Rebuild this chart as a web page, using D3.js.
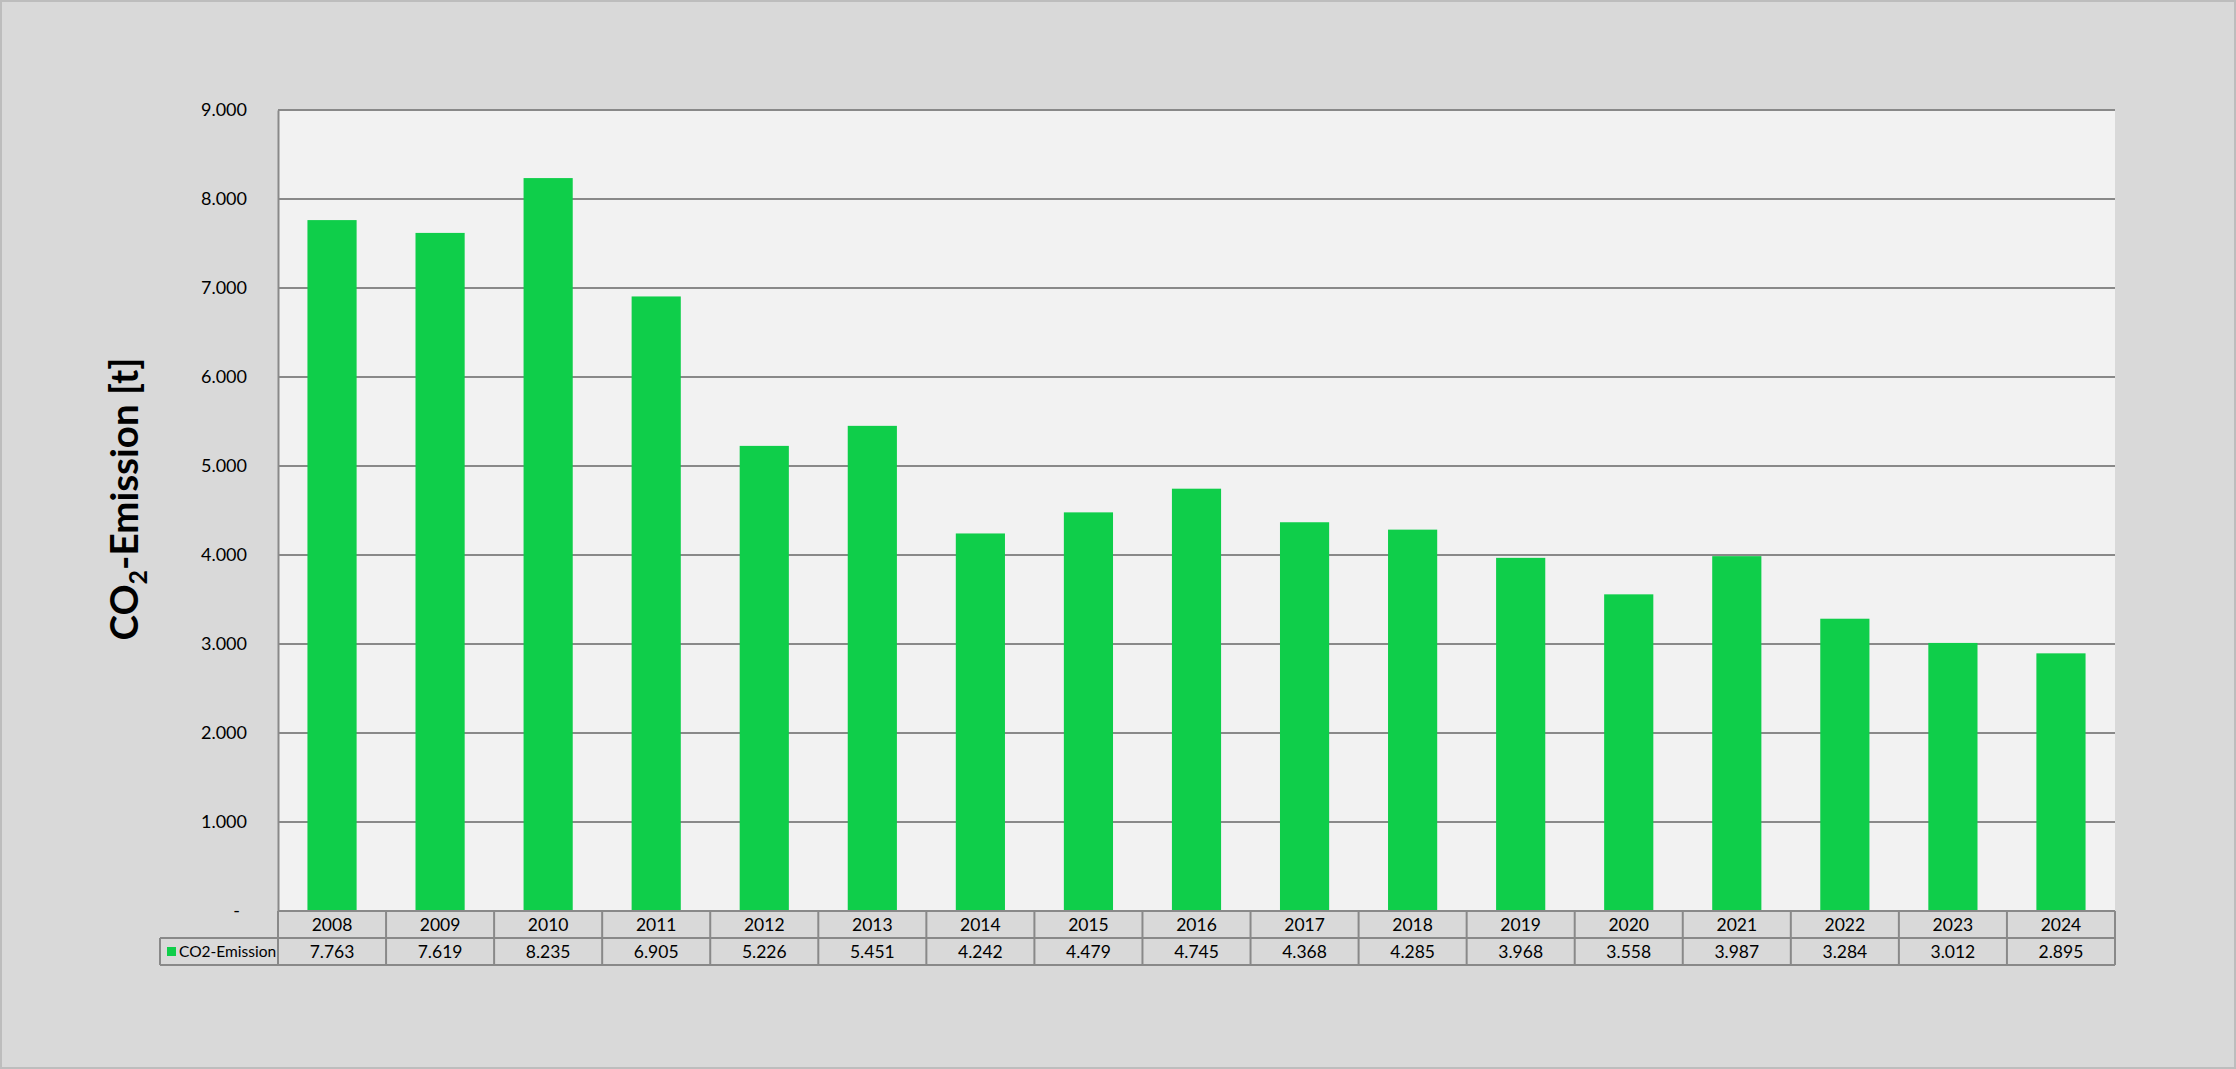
<!DOCTYPE html>
<html>
<head>
<meta charset="utf-8">
<script src="https://cdn.jsdelivr.net/npm/d3@7"></script>
<style>
  html, body { margin: 0; padding: 0; background: #d9d9d9; }
  svg { display: block; }
  text { font-family: Lato, "Open Sans", sans-serif; fill: #000; }
</style>
</head>
<body>
<svg id="chart" width="2236" height="1069"></svg>
<script>
const years = ["2008","2009","2010","2011","2012","2013","2014","2015","2016","2017","2018","2019","2020","2021","2022","2023","2024"];
const emissions = [7763, 7619, 8235, 6905, 5226, 5451, 4242, 4479, 4745, 4368, 4285, 3968, 3558, 3987, 3284, 3012, 2895];
const seriesName = "CO2-Emission";
const yTicks = [0, 1000, 2000, 3000, 4000, 5000, 6000, 7000, 8000, 9000];

const W = 2236, H = 1069;
const plot = { left: 278, right: 2115, top: 110, bottom: 911 };
const rowH = 27;
const legendLeft = 160;
const lineColor = "#898989";
const barColor = "#0fce4a";

const loc = d3.formatLocale({ decimal: ",", thousands: ".", grouping: [3], currency: ["", "€"] });
const fmt = loc.format(",d");
const tickFmt = v => v === 0 ? "-" : fmt(v);

const svg = d3.select("#chart");

// outer frame
svg.append("rect").attr("x", 1).attr("y", 1).attr("width", W - 2).attr("height", H - 2)
  .attr("fill", "#d9d9d9").attr("stroke", "#bdbdbd").attr("stroke-width", 2);

const x = d3.scaleBand().domain(years).range([plot.left, plot.right]).paddingInner(0.545).paddingOuter(0.2725);
const xCell = d3.scaleBand().domain(years).range([plot.left, plot.right]).padding(0);
const y = d3.scaleLinear().domain([0, 9000]).range([plot.bottom, plot.top]);

// plot background
svg.append("rect").attr("x", plot.left).attr("y", plot.top)
  .attr("width", plot.right - plot.left).attr("height", plot.bottom - plot.top)
  .attr("fill", "#f2f2f2");

// gridlines
svg.append("g").selectAll("line").data(yTicks.filter(d => d > 0)).join("line")
  .attr("x1", plot.left).attr("x2", plot.right)
  .attr("y1", d => y(d)).attr("y2", d => y(d))
  .attr("stroke", lineColor).attr("stroke-width", 2);

// bars
svg.append("g").selectAll("rect").data(emissions).join("rect")
  .attr("x", (d, i) => x(years[i]))
  .attr("width", x.bandwidth())
  .attr("y", d => y(d))
  .attr("height", d => y(0) - y(d))
  .attr("fill", barColor);

// y axis
const yAxis = d3.axisLeft(y).tickValues(yTicks).tickFormat(tickFmt).tickSize(0).tickPadding(31);
const gy = svg.append("g").attr("transform", `translate(${plot.left},0)`).call(yAxis);
gy.select(".domain").attr("stroke", lineColor).attr("stroke-width", 2);
gy.selectAll("text").style("font-family", "Lato, sans-serif").style("font-size", "18px").attr("fill", "#000")
  .attr("dx", d => d === 0 ? -7 : 0);

// y title
const title = svg.append("text")
  .attr("transform", `translate(138,499) rotate(-90)`)
  .attr("text-anchor", "middle")
  .style("font-size", "38.5px").style("font-weight", "bold");
title.append("tspan").text("CO");
title.append("tspan").text("2").style("font-size", "25px").attr("dy", 9);
title.append("tspan").text("-Emission [t]").attr("dy", -9);

// data table
const tbl = svg.append("g");
tbl.selectAll("text.yr").data(years).join("text").attr("class", "yr")
  .attr("x", d => xCell(d) + xCell.bandwidth() / 2)
  .attr("y", plot.bottom + rowH / 2)
  .attr("dy", "0.35em").attr("text-anchor", "middle")
  .style("font-size", "17.5px").text(d => d);
tbl.selectAll("text.val").data(emissions).join("text").attr("class", "val")
  .attr("x", (d, i) => xCell(years[i]) + xCell.bandwidth() / 2)
  .attr("y", plot.bottom + rowH * 1.5)
  .attr("dy", "0.35em").attr("text-anchor", "middle")
  .style("font-size", "17.5px").text(d => fmt(d));

// legend cell
tbl.append("rect").attr("x", legendLeft + 7).attr("y", plot.bottom + rowH + 9)
  .attr("width", 9).attr("height", 9).attr("fill", barColor);
tbl.append("text").attr("x", legendLeft + 19).attr("y", plot.bottom + rowH * 1.5)
  .attr("dy", "0.35em").style("font-size", "15.5px").text(seriesName);

// table lines
const tl = tbl.append("g").attr("stroke", lineColor).attr("stroke-width", 2).attr("fill", "none");
tl.append("line").attr("x1", plot.left).attr("x2", plot.right).attr("y1", plot.bottom).attr("y2", plot.bottom);
tl.append("line").attr("x1", legendLeft).attr("x2", plot.right).attr("y1", plot.bottom + rowH).attr("y2", plot.bottom + rowH);
tl.append("line").attr("x1", legendLeft).attr("x2", plot.right).attr("y1", plot.bottom + 2 * rowH).attr("y2", plot.bottom + 2 * rowH);
tl.append("line").attr("x1", legendLeft).attr("x2", legendLeft).attr("y1", plot.bottom + rowH).attr("y2", plot.bottom + 2 * rowH);
tl.selectAll("line.v").data(years.concat(["end"])).join("line").attr("class", "v")
  .attr("x1", d => d === "end" ? plot.right : xCell(d))
  .attr("x2", d => d === "end" ? plot.right : xCell(d))
  .attr("y1", plot.bottom).attr("y2", plot.bottom + 2 * rowH);
</script>
</body>
</html>
